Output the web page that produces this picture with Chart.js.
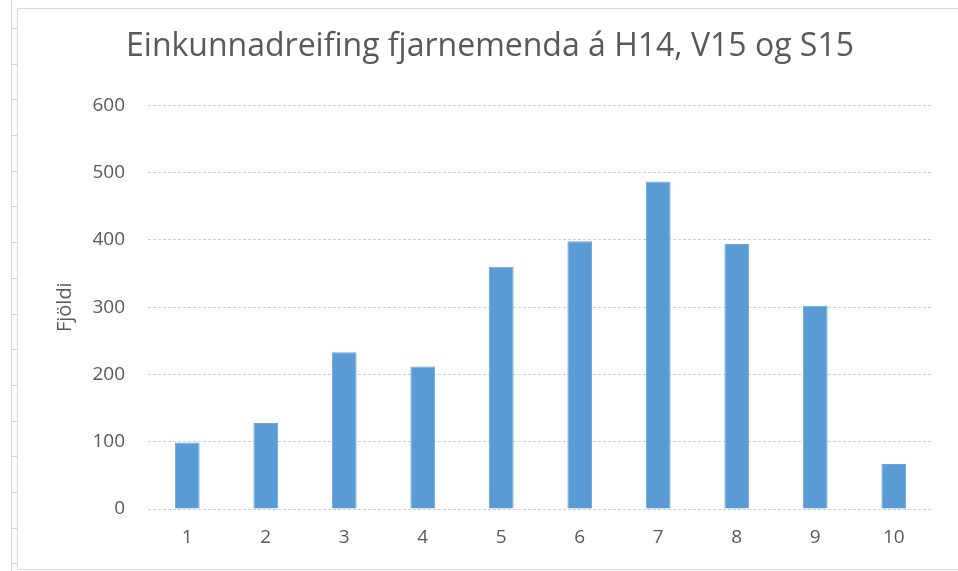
<!DOCTYPE html>
<html>
<head>
<meta charset="utf-8">
<script src="https://cdn.jsdelivr.net/npm/chart.js@4/dist/chart.umd.min.js"></script>
<style>
  html, body { margin: 0; padding: 0; background: #fff; }
  body { width: 958px; height: 571px; position: relative; overflow: hidden; }
  .sheet-edge {
    position: absolute; left: 11px; top: 0; width: 6px; height: 571px;
    border-left: 1px solid #d4d4d4;
    background: repeating-linear-gradient(to bottom, #d4d4d4 0 1px, transparent 1px 35.7px);
    background-position: 0 28px;
  }
  .chart-box {
    position: absolute; left: 17px; top: 8px; width: 960px; height: 560px;
    border: 1px solid #d9d9d9; border-right: none;
  }
  #gradeChart { position: absolute; left: 18px; top: 9px; }
</style>
</head>
<body>
<div class="sheet-edge"></div>
<div class="chart-box"></div>
<canvas id="gradeChart" width="944" height="559"></canvas>
<script>
const titleText = "Einkunnadreifing fjarnemenda á H14, V15 og S15";
const yAxisTitle = "Fjöldi";
const grades = ["1", "2", "3", "4", "5", "6", "7", "8", "9", "10"];
const counts = [99, 128, 233, 212, 360, 398, 487, 394, 302, 67];
const yMin = 0;
const yMax = 600;
const yStep = 100;

const textColor = "#595959";
const fontFamily = "'Open Sans', sans-serif";

const ctx = document.getElementById("gradeChart");

new Chart(ctx, {
  type: "bar",
  data: {
    labels: grades,
    datasets: [
      {
        label: yAxisTitle,
        data: counts,
        backgroundColor: "#5b9bd5",
        borderColor: "#6aa6dc",
        borderWidth: 1,
        categoryPercentage: 1,
        barPercentage: 0.315,
      },
    ],
  },
  options: {
    responsive: false,
    animation: false,
    layout: {
      padding: 0,
    },
    plugins: {
      legend: { display: false },
      tooltip: { enabled: false },
      title: {
        display: true,
        text: titleText,
        color: textColor,
        font: { family: fontFamily, size: 32, weight: "normal" },
        padding: { top: 19, bottom: 39 },
      },
    },
    scales: {
      y: {
        min: yMin,
        max: yMax,
        border: { display: false, dash: [3, 2] },
        grid: { color: "#cfcfcf", drawTicks: false },
        ticks: {
          stepSize: yStep,
          color: textColor,
          padding: 23,
          font: { family: fontFamily, size: 19 },
        },
        title: {
          display: true,
          text: yAxisTitle,
          color: textColor,
          font: { family: fontFamily, size: 20 },
          padding: { top: 35, bottom: 0 },
        },
        afterFit: (scale) => {
          scale.width = 130;
        },
      },
      // empty right-hand gutter so the title centres on the whole chart box
      gutter: {
        position: "right",
        border: { display: false },
        grid: { display: false, drawTicks: false },
        ticks: { display: false },
        afterFit: (scale) => {
          scale.width = 29;
        },
      },
      x: {
        border: { display: false },
        grid: { display: false, drawTicks: false },
        ticks: {
          color: textColor,
          padding: 17,
          font: { family: fontFamily, size: 19 },
        },
        afterFit: (scale) => {
          scale.height = 59;
        },
      },
    },
  },
});
</script>
</body>
</html>
